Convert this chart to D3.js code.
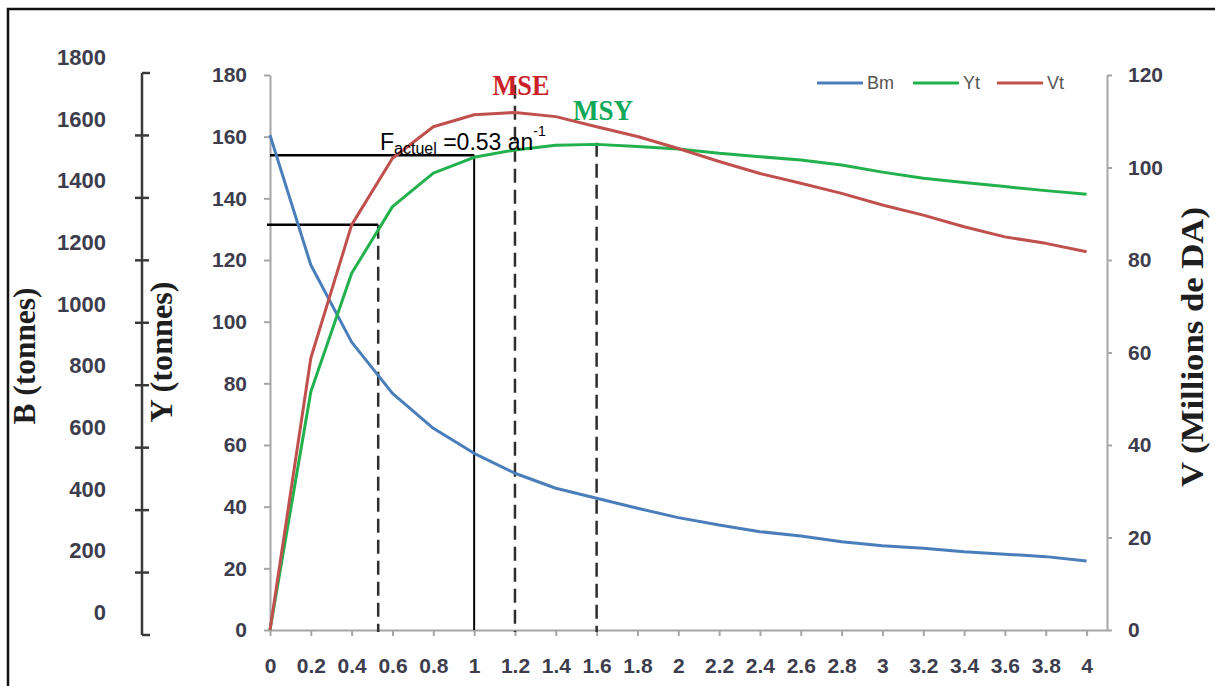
<!DOCTYPE html>
<html><head><meta charset="utf-8">
<script src="https://cdn.jsdelivr.net/npm/d3@7"></script>
<style>html,body{margin:0;padding:0;background:#fff;}svg{display:block;}</style>
</head><body>
<svg id="chart" width="1215" height="686"></svg>
<script>
// ---- data ----
const fValues = [0,0.2,0.4,0.6,0.8,1,1.2,1.4,1.6,1.8,2,2.2,2.4,2.6,2.8,3,3.2,3.4,3.6,3.8,4];
const fLabels = ["0","0.2","0.4","0.6","0.8","1","1.2","1.4","1.6","1.8","2","2.2","2.4","2.6","2.8","3","3.2","3.4","3.6","3.8","4"];
const bm = [1601,1185,938,774,662,582,518,470,438,406,376,352,331,317,299,286,278,267,259,251,237];
const yt = [0,77.3,115.7,137.3,148.2,153.3,155.7,157.2,157.5,156.8,156,154.6,153.5,152.4,150.8,148.5,146.5,145.1,143.8,142.5,141.3];
const vt = [0,58.8,87.6,102,108.8,111.4,111.9,111,108.8,106.7,104.1,101.3,98.7,96.6,94.4,91.9,89.7,87.2,85,83.6,81.8];
const yTicks = [0,20,40,60,80,100,120,140,160,180];
const vTicks = [0,20,40,60,80,100,120];
const bTicks = [0,200,400,600,800,1000,1200,1400,1600,1800];
const seriesNames = ["Bm","Yt","Vt"];
// reference points (F, Y level)
const fActuel = 0.53, yActuel = 131.4;
const fRef = 1.0, yRef = 154;
const fMSE = 1.2, yMSEtop = 176.8;
const fMSY = 1.6, yMSYtop = 158;

// ---- scales ----
const svg = d3.select("#chart");
const x = d3.scaleLinear().domain([0, 4.1]).range([270, 1107]);
const y = d3.scaleLinear().domain([0, 180]).range([630, 75]);
const v = d3.scaleLinear().domain([0, 120]).range([630, 75]);
const bAxisScale = d3.scaleLinear().domain([0, 1800]).range([635, 73]);
const bLabelScale = d3.scaleLinear().domain([0, 1800]).range([612, 57]);

const colors = {Bm:"#4a7ebb", Yt:"#22b14c", Vt:"#c0504d"};
const axisGray = "#a6a6a6";
const labelFill = "#3d3d4d";

// frame
svg.append("path").attr("d","M8,686 L8,9 L1215,9").attr("fill","none").attr("stroke","#111").attr("stroke-width",2.5);

// ---- axes ----
const gx = svg.append("g").attr("transform","translate(0,630)")
  .call(d3.axisBottom(x).tickValues(fValues).tickFormat((d,i)=>fLabels[i]).tickSize(6).tickSizeOuter(0).tickPadding(22));
const gy = svg.append("g").attr("transform","translate(270,0)")
  .call(d3.axisLeft(y).tickValues(yTicks).tickSize(6).tickSizeOuter(0).tickPadding(17));
const gv = svg.append("g").attr("transform","translate(1107,0)")
  .call(d3.axisRight(v).tickValues(vTicks).tickSize(5).tickSizeOuter(0).tickPadding(16));
[gx,gy,gv].forEach(g=>{
  g.select(".domain").attr("stroke",axisGray).attr("stroke-width",2);
  g.selectAll(".tick line").attr("stroke",axisGray).attr("stroke-width",2);
  g.selectAll(".tick text").attr("fill",labelFill).attr("font-family","'Liberation Sans', Arial, sans-serif").attr("font-weight","bold").attr("font-size",21);
});

// B axis (separate)
const gb = svg.append("g");
gb.append("line").attr("x1",142).attr("x2",142).attr("y1",bAxisScale(1800)).attr("y2",bAxisScale(0))
  .attr("stroke","#3a3a3a").attr("stroke-width",2.5);
gb.selectAll("line.bt").data(bTicks.filter(d=>d>0 && d<1800)).join("line").attr("class","bt")
  .attr("x1",135).attr("x2",149).attr("y1",d=>bAxisScale(d)).attr("y2",d=>bAxisScale(d))
  .attr("stroke","#3a3a3a").attr("stroke-width",2.5);
gb.selectAll("line.bc").data([0,1800]).join("line").attr("class","bc")
  .attr("x1",142).attr("x2",150).attr("y1",d=>bAxisScale(d)).attr("y2",d=>bAxisScale(d))
  .attr("stroke","#3a3a3a").attr("stroke-width",2.5);
gb.selectAll("text").data(bTicks).join("text")
  .attr("x",106).attr("y",d=>bLabelScale(d)).attr("dy","0.36em")
  .attr("text-anchor","end").attr("font-family","'Liberation Sans', Arial, sans-serif")
  .attr("font-weight","bold").attr("font-size",22).attr("fill",labelFill).text(d=>d);

// axis titles
const titleFont = "'Liberation Serif','Times New Roman',serif";
function vtitle(tx, cy, txt, len){
  svg.append("text").attr("transform",`translate(${tx},${cy}) rotate(-90)`)
    .attr("text-anchor","middle").attr("font-family",titleFont).attr("font-weight","bold")
    .attr("font-size",31).attr("fill","#1e1e1e").attr("textLength",len).attr("lengthAdjust","spacingAndGlyphs").text(txt);
}
vtitle(35, 356, "B (tonnes)", 137);
vtitle(172, 352, "Y (tonnes)", 141);
vtitle(1203, 347, "V (Millions de DA)", 280);

// ---- reference lines ----
const ref = svg.append("g");
ref.append("line").attr("x1",x(0)).attr("x2",x(fRef)).attr("y1",y(yRef)).attr("y2",y(yRef)).attr("stroke","#000").attr("stroke-width",2.5);
ref.append("line").attr("x1",x(fRef)).attr("x2",x(fRef)).attr("y1",y(yRef)).attr("y2",y(0)).attr("stroke","#000").attr("stroke-width",2);
ref.append("line").attr("x1",x(0)-3).attr("x2",x(fActuel)).attr("y1",y(yActuel)).attr("y2",y(yActuel)).attr("stroke","#000").attr("stroke-width",2.5);
[[fActuel,yActuel],[fMSE,yMSEtop],[fMSY,yMSYtop]].forEach(([f,top])=>{
  ref.append("line").attr("x1",x(f)).attr("x2",x(f)).attr("y1",y(top)).attr("y2",y(0)+2)
    .attr("stroke","#2e2e2e").attr("stroke-width",2.5).attr("stroke-dasharray","14,7");
});

// ---- series ----
const pts = arr => arr.map((val,i)=>[fValues[i], val]);
const lineY = d3.line().x(d=>x(d[0])).y(d=>y(d[1]));
const lineV = d3.line().x(d=>x(d[0])).y(d=>v(d[1]));
const lineB = d3.line().x(d=>x(d[0])).y(d=>bAxisScale(d[1]));
svg.append("path").attr("d",lineB(pts(bm))).attr("fill","none").attr("stroke",colors.Bm).attr("stroke-width",3).attr("stroke-linejoin","round");
svg.append("path").attr("d",lineY(pts(yt))).attr("fill","none").attr("stroke",colors.Yt).attr("stroke-width",3).attr("stroke-linejoin","round");
svg.append("path").attr("d",lineV(pts(vt))).attr("fill","none").attr("stroke",colors.Vt).attr("stroke-width",3).attr("stroke-linejoin","round");

// ---- labels ----
svg.append("text").attr("x",521).attr("y",95).attr("text-anchor","middle").attr("font-family",titleFont)
  .attr("font-weight","bold").attr("font-size",30).attr("fill","#cc1f2a").attr("textLength",57).attr("lengthAdjust","spacingAndGlyphs").text("MSE");
svg.append("text").attr("x",603).attr("y",120).attr("text-anchor","middle").attr("font-family",titleFont)
  .attr("font-weight","bold").attr("font-size",30).attr("fill","#12a85a").attr("textLength",60).attr("lengthAdjust","spacingAndGlyphs").text("MSY");

const fa = svg.append("text").attr("x",380).attr("y",150).attr("font-family","'Liberation Sans', Arial, sans-serif").attr("font-size",23).attr("fill","#000");
fa.append("tspan").text("F");
fa.append("tspan").attr("font-size",16).attr("dy",4).text("actuel");
fa.append("tspan").attr("dy",-4).text(" =0.53 an");
fa.append("tspan").attr("font-size",14).attr("dy",-14).text("-1");

// ---- legend ----
const legX = [817, 913, 997];
const leg = svg.append("g");
seriesNames.forEach((n,i)=>{
  leg.append("line").attr("x1",legX[i]).attr("x2",legX[i]+46).attr("y1",83).attr("y2",83).attr("stroke",colors[n]).attr("stroke-width",3);
  leg.append("text").attr("x",legX[i]+50).attr("y",83).attr("dy","0.36em").attr("font-family","'Liberation Sans', Arial, sans-serif")
    .attr("font-size",18).attr("fill","#555").text(n);
});
</script>
</body></html>
